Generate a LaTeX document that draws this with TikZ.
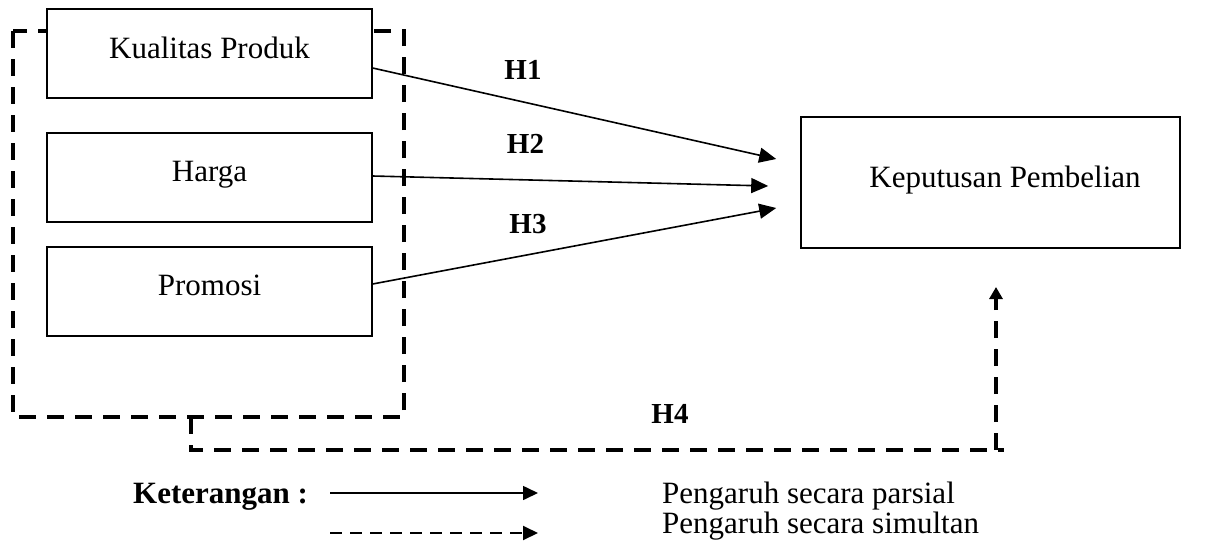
\documentclass[tikz,border=0pt]{standalone}
\usepackage{fontspec}
\setmainfont{Liberation Serif}
\usetikzlibrary{arrows.meta,calc}
\begin{document}
\begin{tikzpicture}[x=1pt,y=-1pt,
  varbox/.style={draw, line width=1.3pt, fill=white, minimum width=325pt, minimum height=89pt,
    inner sep=0pt, text height=8pt, text depth=0pt, font=\fontsize{31}{37}\selectfont},
  bigbox/.style={draw, line width=1.6pt, minimum width=379pt, minimum height=131pt, inner sep=0pt},
  bigtxt/.style={font=\fontsize{31}{37}\selectfont, inner sep=0pt, anchor=base},
  hlabel/.style={font=\bfseries\fontsize{29}{34}\selectfont, inner sep=0pt, anchor=base},
  legtxt/.style={font=\fontsize{31}{37}\selectfont, inner sep=0pt, anchor=base west},
  legbold/.style={font=\bfseries\fontsize{31}{37}\selectfont, inner sep=0pt, anchor=base west},
  parsial/.style={line width=1.6pt, -{Triangle[length=17pt,width=15pt]}},
  frameline/.style={line width=3.3pt, dash pattern=on 17pt off 11pt},
  simline/.style={line width=3.3pt, dash pattern=on 17pt off 11pt},
  legsolid/.style={line width=1.6pt, -{Triangle[length=15pt,width=14pt]}},
  legdash/.style={line width=2pt, dash pattern=on 12pt off 8pt, -{Triangle[length=15pt,width=14pt]}}
]
\useasboundingbox (0,0) rectangle (1208,544);

% dashed frame around the independent variables
\coordinate (fa) at (13,31);
\coordinate (fb) at (404,417);
\draw[frameline] (fa) rectangle (fb);

% independent variable boxes
\node[varbox, text height=10pt] (kq) at (209.5,53.5) {Kualitas Produk};
\node[varbox] (hg) at (209.5,177.5) {Harga};
\node[varbox, text height=7pt] (pr) at (209.5,291.5) {Promosi};

% dependent variable box
\node[bigbox] (kp) at (990.5,182.5) {};
\node[bigtxt] (kpt) at (1005,187) {Keputusan Pembelian};

% arrow targets
\coordinate (t1) at ($(kp.west)+(-24,-23.5)$);
\coordinate (t2) at ($(kp.west)+(-32,3.5)$);
\coordinate (t3) at ($(kp.west)+(-24,25.5)$);

\draw[parsial] ($(kq.east)+(0,14.5)$) -- (t1);
\draw[parsial] ($(hg.east)+(0,-1.5)$) -- (t2);
\draw[parsial] ($(pr.east)+(0,-7.5)$) -- (t3);

\node[hlabel] (h1) at (523,79) {H1};
\node[hlabel] (h2) at (525.5,153) {H2};
\node[hlabel] (h3) at (528,233) {H3};

% simultaneous path
\coordinate (h4s) at (191,417);
\coordinate (h4c) at (1004,450);
\coordinate (h4u) at (996,450);
\coordinate (h4t) at (996,287);
\draw[simline] (h4s) |- (h4c);
\draw[simline, -{Triangle[length=12pt,width=13pt]}] (h4u) -- (h4t);
\node[hlabel] (h4) at (670,423) {H4};

% legend
\node[legbold] (ket) at (133,503) {Keterangan :};
\coordinate (ls1) at (330,493);
\coordinate (le1) at (538,493);
\coordinate (ls2) at (330,533);
\coordinate (le2) at (538,533);
\draw[legsolid] (ls1) -- (le1);
\draw[legdash] (ls2) -- (le2);
\node[legtxt] (lp) at (662,503) {Pengaruh secara parsial};
\node[legtxt] (lsm) at (662,533) {Pengaruh secara simultan};
\end{tikzpicture}
\end{document}
